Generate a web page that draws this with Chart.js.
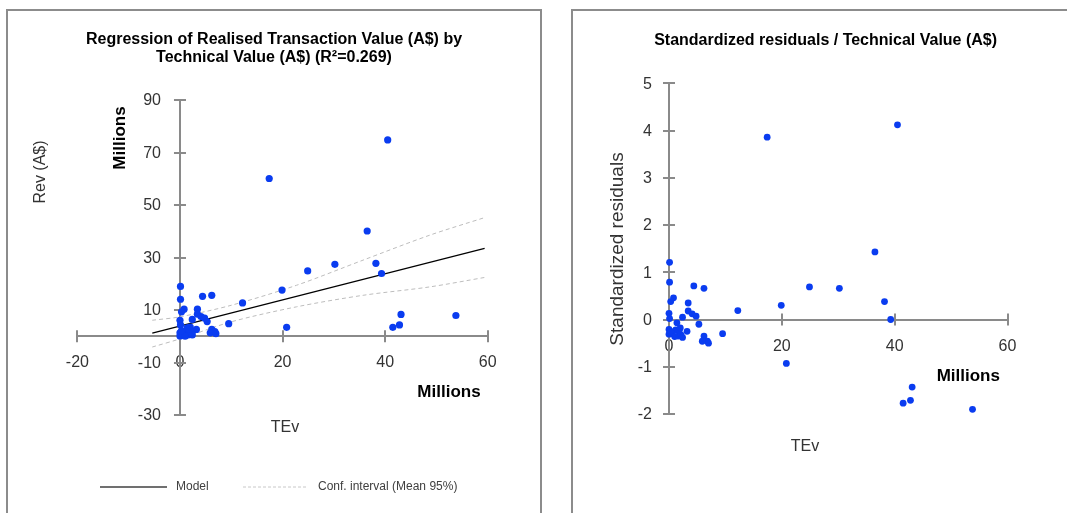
<!DOCTYPE html>
<html><head><meta charset="utf-8">
<script src="https://cdn.jsdelivr.net/npm/chart.js@4.4.1/dist/chart.umd.min.js"></script>
<style>
html,body{margin:0;padding:0;background:#fff;width:1067px;height:513px;overflow:hidden;position:relative;}
.panel{position:absolute;border:2px solid #8c8c8c;border-bottom:none;box-sizing:border-box;}
#p1{left:6px;top:9px;width:536px;height:520px;}
#p2{left:571px;top:9px;width:520px;height:520px;}
canvas{position:absolute;top:0;}
</style></head><body>
<div class="panel" id="p1"></div><div class="panel" id="p2"></div>
<canvas id="c1" width="560" height="513" style="left:0;width:560px;height:513px"></canvas>
<canvas id="c2" width="507" height="513" style="left:560px;width:507px;height:513px"></canvas>
<script>
// ---------- data ----------
const tev    = [17.4, 40.5, 36.5, 24.9, 30.2, 38.2, 39.3, 19.9, 20.8, 43.1, 41.5, 42.8, 53.8, 12.2, 9.5,
                0.1, 0.1, 4.4, 6.2, 0.8, 0.3, 3.4, 0.0, 3.4, 4.1, 4.8, 2.4, 0.1, 1.4, 5.3,
                0.0, 0.0, 3.2, 6.2, 6.8, 5.9, 7.0, 1.2, 1.6, 2.1, 0.5, 1.0, 2.4, 1.8, 0.3, 2.0];
const rev    = [60.1, 74.8, 40.1, 24.9, 27.4, 27.8, 23.9, 17.6, 3.4, 8.3, 3.4, 4.3, 7.9, 12.7, 4.8,
                19.0, 14.1, 15.2, 15.6, 10.3, 9.3, 10.3, 6.1, 8.4, 7.5, 6.9, 6.4, 4.3, 3.2, 5.6,
                1.3, 0.1, 2.6, 2.6, 1.8, 1.3, 1.0, 1.8, 0.5, 1.2, 0.4, 0.0, 0.5, 2.7, 2.1, 3.5];
const stdRes = [3.86, 4.12, 1.43, 0.69, 0.66, 0.38, 0.00, 0.30, -0.93, -1.43, -1.77, -1.71, -1.90, 0.19, -0.30,
                1.21, 0.79, 0.71, 0.66, 0.46, 0.38, 0.35, 0.13, 0.18, 0.12, 0.07, 0.05, 0.02, -0.07, -0.10,
                -0.21, -0.31, -0.25, -0.35, -0.46, -0.46, -0.50, -0.22, -0.35, -0.32, -0.30, -0.36, -0.38, -0.22, -0.25, -0.18];
const modelTev  = [-5.4, 59.4];
const modelRev  = [1.2, 33.5];
const confTev   = [-5.4, 0, 10, 22.7, 35.7, 48.7, 59.4];
const confUpper = [6.1, 7.4, 11.8, 19.4, 29.0, 38.5, 45.2];
const confLower = [-4.1, -1.0, 5.5, 11.2, 15.6, 18.8, 22.4];
const leftXTicks  = [-20, 0, 20, 40, 60];
const leftYTicks  = [-30, -10, 10, 30, 50, 70, 90];
const rightXTicks = [0, 20, 40, 60];
const rightYTicks = [-2, -1, 0, 1, 2, 3, 4, 5];
const leftTitle  = ['Regression of Realised Transaction Value (A$) by', 'Technical Value (A$) (R\u00B2=0.269)'];
const rightTitle = 'Standardized residuals / Technical Value (A$)';
const legendLabels = ['Model', 'Conf. interval (Mean 95%)'];

// ---------- styling ----------
const FONT = "'Liberation Sans', Arial, sans-serif";
const AXIS = '#8a8a8a';
const DOT = '#0a3cf0';
const TICKTXT = '#333333';

const pts = (xs, ys) => xs.map((v, i) => ({x: v, y: ys[i]}));

const decor = {
  id: 'decor',
  beforeDatasetsDraw(chart, args, opts) {
    const ctx = chart.ctx, xs = chart.scales.x, ys = chart.scales.y;
    const x0 = xs.getPixelForValue(0), y0 = ys.getPixelForValue(0);
    ctx.save();
    ctx.strokeStyle = AXIS; ctx.lineWidth = 2;
    ctx.beginPath();
    xs.ticks.forEach(t => { const p = Math.round(xs.getPixelForValue(t.value)); ctx.moveTo(p, y0 - 6); ctx.lineTo(p, y0 + 6); });
    ys.ticks.forEach(t => { const p = Math.round(ys.getPixelForValue(t.value)); ctx.moveTo(x0 - 6, p); ctx.lineTo(x0 + 6, p); });
    ctx.stroke();
    // y tick labels, right-aligned beside the crossing y axis
    ctx.font = '16px ' + FONT; ctx.fillStyle = TICKTXT;
    ctx.textAlign = 'right'; ctx.textBaseline = 'middle';
    ys.ticks.forEach(t => { ctx.fillText(t.label, x0 - opts.yGap, ys.getPixelForValue(t.value) + 1); });
    ctx.restore();
  },
  afterDraw(chart, args, opts) {
    const ctx = chart.ctx;
    ctx.save();
    (opts.texts || []).forEach(t => {
      ctx.save();
      ctx.font = (t.bold ? 'bold ' : '') + t.size + 'px ' + FONT;
      ctx.fillStyle = t.color || '#000';
      ctx.textAlign = t.align || 'center';
      ctx.textBaseline = 'middle';
      ctx.translate(t.x, t.y);
      if (t.rot) ctx.rotate(t.rot);
      ctx.fillText(t.text, 0, 0);
      ctx.restore();
    });
    (opts.legend || []).forEach(l => {
      ctx.save();
      ctx.strokeStyle = l.color; ctx.lineWidth = l.width;
      ctx.setLineDash(l.dash || []);
      ctx.beginPath(); ctx.moveTo(l.x1, l.y); ctx.lineTo(l.x2, l.y); ctx.stroke();
      ctx.font = '12px ' + FONT; ctx.fillStyle = '#404040';
      ctx.textAlign = 'left'; ctx.textBaseline = 'middle';
      ctx.fillText(l.text, l.tx, l.y);
      ctx.restore();
    });
    ctx.restore();
  }
};

function axisOpts(ticksArr, posObj, isX) {
  return {
    type: 'linear',
    position: posObj,
    min: ticksArr[0], max: ticksArr[ticksArr.length - 1],
    afterBuildTicks: s => { s.ticks = ticksArr.map(v => ({value: v})); },
    afterFit: s => { if (isX) s.height = 0; else s.width = 0; },
    grid: {drawOnChartArea: false, drawTicks: false},
    border: {display: true, color: AXIS, width: 2},
    ticks: {display: isX, autoSkip: false, maxRotation: 0, color: TICKTXT, font: {family: FONT, size: 16},
            padding: 17}
  };
}

const common = {
  responsive: false, animation: false, devicePixelRatio: 1,
  plugins: {legend: {display: false}, tooltip: {enabled: false}, title: {display: false}},
};

new Chart(document.getElementById('c1'), {
  data: {
    datasets: [
      {type: 'scatter', data: pts(tev, rev), backgroundColor: DOT, borderWidth: 0, pointRadius: 3.6, order: 0, clip: false},
      {type: 'line', data: pts(modelTev, modelRev), borderColor: '#000', borderWidth: 1.2, pointRadius: 0, order: 1},
      {type: 'line', data: pts(confTev, confUpper), borderColor: '#bdbdbd', borderWidth: 1, borderDash: [4, 3], pointRadius: 0, tension: 0.3, order: 2},
      {type: 'line', data: pts(confTev, confLower), borderColor: '#bdbdbd', borderWidth: 1, borderDash: [4, 3], pointRadius: 0, tension: 0.3, order: 2}
    ]
  },
  options: Object.assign({}, common, {
    layout: {padding: {left: 77.4, right: 72.3, top: 100, bottom: 98}},
    scales: {x: axisOpts(leftXTicks, {y: 0}, true), y: axisOpts(leftYTicks, {x: 0}, false)},
    plugins: Object.assign({}, common.plugins, {decor: {
      yGap: 19,
      texts: [
        {text: leftTitle[0], x: 274, y: 40, size: 16, bold: true},
        {text: leftTitle[1], x: 274, y: 58, size: 16, bold: true},
        {text: 'Rev (A$)', x: 41, y: 172, size: 16, rot: -Math.PI / 2, color: '#333'},
        {text: 'Millions', x: 120, y: 138, size: 17, bold: true, rot: -Math.PI / 2},
        {text: 'TEv', x: 285, y: 428, size: 16, color: '#333'},
        {text: 'Millions', x: 449, y: 392, size: 17, bold: true}
      ],
      legend: [
        {x1: 100, x2: 167, y: 487, color: '#404040', width: 1.5, text: legendLabels[0], tx: 176},
        {x1: 243, x2: 308, y: 487, color: '#c8c8c8', width: 1, dash: [3, 2], text: legendLabels[1], tx: 318}
      ]
    }})
  }),
  plugins: [decor]
});

new Chart(document.getElementById('c2'), {
  data: {
    datasets: [
      {type: 'scatter', data: pts(tev, stdRes), backgroundColor: DOT, borderWidth: 0, pointRadius: 3.4, clip: false}
    ]
  },
  options: Object.assign({}, common, {
    layout: {padding: {left: 109, right: 59.5, top: 83.3, bottom: 99}},
    scales: {x: axisOpts(rightXTicks, {y: 0}, true), y: axisOpts(rightYTicks, {x: 0}, false)},
    plugins: Object.assign({}, common.plugins, {decor: {
      yGap: 17,
      texts: [
        {text: rightTitle, x: 265.6, y: 41, size: 16, bold: true},
        {text: 'Standardized residuals', x: 57.5, y: 249, size: 19, rot: -Math.PI / 2, color: '#333'},
        {text: 'TEv', x: 245, y: 447, size: 16, color: '#333'},
        {text: 'Millions', x: 408.3, y: 376, size: 17, bold: true}
      ]
    }})
  }),
  plugins: [decor]
});
</script>
</body></html>
